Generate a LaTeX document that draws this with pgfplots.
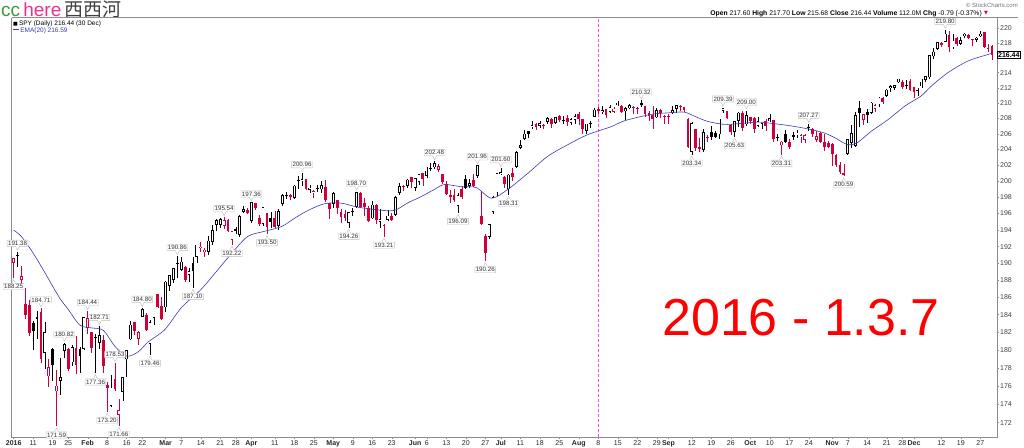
\documentclass[border=0pt]{standalone}
\usepackage{pgfplots}
\pgfplotsset{compat=1.18}
\usepackage{pgfplotstable}
\usetikzlibrary{shapes.callouts}
\usepackage{fontspec}
\setmainfont{Liberation Sans}
\newfontfamily\cjk{Noto Sans CJK SC}
\newfontfamily\dejavu{DejaVu Sans}
\definecolor{cred}{HTML}{D2003A}
\definecolor{emablue}{HTML}{3A3AB4}
\definecolor{vmag}{HTML}{F050F0}
\definecolor{ccgreen}{HTML}{3A9A3A}
\definecolor{herepink}{HTML}{F0308C}

% t: 0 black hollow, 1 black filled, 2 red filled, 3 red hollow
\pgfplotstableread{
i O H L C t
0 190.04 190.56 188.25 190.55 3
1 190.91 191.38 189.63 190.87 1
2 188.01 189.64 187.31 188.46 3
3 185.15 187.15 183.50 183.94 2
4 185.02 185.65 181.60 181.92 2
5 182.96 183.33 179.93 182.10 1
6 183.72 184.42 181.18 183.57 1
7 184.32 184.71 178.57 178.99 2
8 179.68 183.19 177.89 181.93 0
9 177.04 178.93 175.86 178.03 3
10 180.06 180.21 176.50 178.26 1
11 175.39 177.73 171.59 175.98 3
12 176.51 179.03 175.02 176.96 0
13 179.89 180.82 179.04 180.60 0
14 180.02 180.24 177.64 177.86 2
15 178.60 180.60 178.22 180.29 0
16 180.12 181.58 177.31 178.33 2
17 180.06 180.29 177.41 179.26 1
18 180.12 183.78 179.99 183.63 0
19 182.50 184.44 181.84 183.56 3
20 181.96 181.97 179.67 180.25 2
21 181.44 181.79 177.36 181.33 1
22 180.77 182.71 180.06 181.62 0
23 181.04 181.68 177.45 178.16 2
24 176.09 176.42 173.20 175.76 3
25 173.81 177.20 173.66 175.77 0
26 176.70 178.53 175.48 175.62 2
27 172.84 174.51 171.66 173.34 3
28 175.33 176.92 174.38 176.91 0
29 178.93 179.92 176.98 179.89 0
30 181.20 183.25 181.06 182.83 0
31 183.13 183.20 181.73 182.08 2
32 181.21 182.17 180.53 182.00 3
33 183.77 184.80 183.69 184.63 0
34 183.89 184.19 182.17 182.30 2
35 180.70 183.45 179.46 183.13 0
36 183.64 185.36 182.78 185.35 0
37 186.33 186.44 184.75 184.93 2
38 184.95 186.01 183.40 183.48 2
39 184.85 187.88 184.32 187.79 0
40 187.32 188.59 186.74 188.55 0
41 188.02 189.48 187.67 189.41 0
42 189.92 190.86 188.29 189.99 0
43 189.23 190.80 189.07 190.14 0
44 189.53 189.66 187.78 188.06 2
45 188.61 189.44 187.78 188.99 0
46 189.98 190.80 187.10 189.14 1
47 190.80 192.25 190.05 192.20 0
48 191.80 192.60 191.30 191.95 3
49 191.30 191.80 190.75 191.60 3
50 191.40 193.25 191.05 192.67 0
51 192.60 194.60 192.20 193.94 0
52 194.60 195.30 193.90 195.12 0
53 194.60 195.50 194.30 195.31 0
54 194.50 195.54 194.10 195.14 3
55 195.20 195.30 193.75 193.89 2
56 192.80 193.90 192.22 193.82 3
57 194.10 194.40 193.50 193.93 1
58 193.40 195.80 193.10 195.64 0
59 196.20 197.00 196.10 196.49 0
60 196.40 196.70 195.95 196.09 2
61 195.10 197.36 194.80 197.33 0
62 197.30 197.30 196.40 196.70 2
63 195.40 195.80 194.45 194.70 2
64 194.70 196.80 194.50 196.75 0
65 196.00 196.10 193.50 194.39 2
66 195.40 196.20 194.30 194.93 1
67 195.40 196.30 194.20 194.40 2
68 194.50 196.50 194.00 196.28 0
69 197.20 198.40 197.00 198.25 0
70 198.20 198.60 197.80 198.28 0
71 198.20 198.40 197.70 198.09 2
72 197.90 199.50 197.80 199.38 0
73 200.10 200.60 199.00 200.00 1
74 200.00 200.96 199.40 200.15 0
75 200.20 200.30 198.90 199.11 2
76 198.90 199.60 198.50 199.12 0
77 198.60 198.90 197.90 198.76 3
78 199.00 199.50 198.70 199.13 0
79 199.00 200.00 198.50 199.46 0
80 199.20 200.10 197.40 197.62 2
81 197.20 197.30 195.30 196.62 2
82 197.20 198.60 196.70 198.45 0
83 197.60 197.70 195.90 196.73 2
84 196.20 196.50 194.90 195.57 2
85 195.90 196.40 195.10 195.52 2
86 194.90 196.20 194.26 196.14 0
87 196.20 196.70 195.70 196.29 0
88 196.80 198.70 196.70 198.60 0
89 198.50 198.60 196.80 196.84 2
90 197.30 197.90 195.70 196.80 2
91 196.60 197.00 195.00 195.14 2
92 195.40 197.50 195.30 197.05 0
93 197.00 197.20 194.70 195.19 2
94 195.00 196.50 194.20 195.23 0
95 194.60 194.70 193.21 194.51 2
96 195.20 196.40 195.10 195.68 0
97 195.70 196.10 195.20 195.27 2
98 195.80 198.20 195.70 197.94 0
99 198.50 199.80 198.30 199.32 0
100 199.40 199.60 198.80 199.28 2
101 199.40 200.20 199.20 200.13 0
102 200.40 200.50 199.20 199.93 2
103 199.20 200.40 198.80 200.28 0
104 199.90 200.90 199.60 200.84 0
105 200.90 201.00 199.40 200.26 2
106 200.60 201.70 200.40 201.24 0
107 201.45 202.20 201.20 201.55 0
108 201.70 202.48 201.50 202.16 0
109 201.40 202.10 201.10 201.82 3
110 200.80 200.90 199.70 199.96 2
111 199.60 200.00 198.30 198.34 2
112 198.20 198.90 197.30 197.99 2
113 198.30 199.00 197.40 197.62 2
114 196.90 198.50 196.09 198.24 0
115 199.00 199.40 197.80 198.01 2
116 200.20 200.80 199.10 199.16 1
117 199.40 200.30 199.20 199.70 0
118 200.10 200.90 199.30 199.37 2
119 200.60 201.96 200.40 201.90 0
120 195.60 198.80 194.60 194.78 2
121 193.20 193.50 190.26 191.25 2
122 193.20 194.70 192.90 194.65 0
123 196.20 198.10 196.00 197.97 0
124 198.60 201.00 198.20 200.90 0
125 200.90 201.60 200.70 201.04 0
126 200.50 200.60 199.20 199.66 2
127 199.00 200.90 198.31 200.73 0
128 200.90 201.60 200.00 200.56 2
129 201.80 203.80 201.60 203.62 0
130 204.20 205.20 204.10 204.51 0
131 205.30 206.50 205.20 205.94 0
132 206.30 206.40 205.50 205.97 1
133 206.80 207.60 206.60 207.05 0
134 207.20 207.40 206.50 206.86 2
135 207.00 207.60 206.70 207.35 0
136 207.10 207.20 206.60 207.06 2
137 207.50 208.20 207.30 207.94 0
138 207.90 208.00 206.70 207.19 2
139 207.40 208.20 207.20 208.13 0
140 208.30 208.40 207.50 207.71 2
141 207.70 208.30 207.20 207.77 0
142 208.00 208.40 207.00 207.52 2
143 207.40 208.00 207.10 207.86 0
144 207.80 208.50 207.30 208.20 0
145 208.50 208.80 207.10 207.93 2
146 207.80 207.90 205.90 206.61 2
147 206.40 207.30 206.00 207.26 0
148 207.20 207.60 206.70 207.30 0
149 208.20 209.30 208.10 209.08 0
150 209.20 209.50 208.50 208.89 2
151 208.80 209.60 208.60 208.97 0
152 209.10 209.20 208.00 208.38 2
153 208.80 209.70 208.70 209.36 0
154 208.80 209.50 208.70 209.19 3
155 209.70 210.30 209.60 209.98 0
156 209.60 209.70 208.80 208.83 2
157 208.90 209.50 207.80 209.22 0
158 209.30 209.90 209.20 209.68 0
159 209.30 209.60 208.50 209.38 3
160 209.20 209.50 208.50 209.26 3
161 209.90 210.32 209.40 209.67 1
162 209.50 209.60 208.10 208.57 2
163 208.60 208.90 207.70 208.29 2
164 208.40 209.60 206.60 207.96 2
165 208.10 209.30 208.00 209.04 0
166 209.00 209.20 208.00 208.63 2
167 208.30 208.40 207.30 208.14 2
168 208.30 208.60 207.30 208.13 2
169 208.70 209.60 208.50 209.00 0
170 209.20 209.70 208.70 209.63 0
171 209.50 209.70 209.00 209.59 3
172 209.40 209.50 208.80 209.13 2
173 207.90 208.00 204.20 204.27 2
174 203.70 207.50 203.34 207.27 0
175 206.50 206.60 203.80 204.19 2
176 204.20 205.50 203.70 204.07 2
177 203.90 206.60 203.70 206.14 0
178 205.50 205.80 204.90 205.57 3
179 206.20 207.00 205.20 205.58 1
180 206.00 206.30 205.40 205.63 1
181 205.90 207.90 205.30 207.88 0
182 209.00 209.39 208.70 209.23 0
183 208.90 208.90 207.90 208.03 2
184 207.10 207.20 205.80 206.24 2
185 206.20 207.70 205.63 207.57 0
186 207.70 208.80 206.90 208.67 0
187 208.60 208.90 206.30 206.72 2
188 207.20 209.00 207.00 208.37 0
189 208.10 208.20 207.30 207.69 2
190 208.00 208.20 206.10 206.66 2
191 207.00 208.10 206.90 207.55 0
192 207.30 207.70 206.60 207.65 0
193 207.60 207.90 206.30 206.97 2
194 207.60 208.60 207.50 207.93 0
195 207.70 207.80 204.90 205.34 2
196 205.50 206.00 205.00 205.57 0
197 204.50 205.10 203.31 204.94 3
198 205.90 206.50 204.80 204.98 1
199 204.90 205.30 204.10 204.36 2
200 205.80 206.20 205.20 205.62 1
201 205.80 206.50 205.50 206.07 0
202 205.60 206.00 204.80 205.78 3
203 205.20 205.90 204.80 205.77 3
204 206.80 207.27 206.40 206.74 1
205 206.60 206.70 205.60 205.96 2
206 205.20 206.40 204.90 205.60 3
207 206.00 206.20 204.80 204.98 2
208 204.90 205.90 203.80 204.35 2
209 204.70 205.00 204.20 204.32 2
210 204.60 204.80 201.90 203.36 2
211 203.20 203.40 201.80 202.03 2
212 201.90 202.40 200.90 201.14 2
213 200.90 202.10 200.59 200.80 2
214 203.40 205.30 203.30 205.27 0
215 204.80 207.10 204.20 206.04 0
216 204.40 208.80 204.30 208.32 0
217 209.30 210.20 206.90 208.73 1
218 207.80 208.60 207.10 208.44 3
219 208.80 209.20 207.40 208.46 1
220 208.70 210.10 208.50 209.97 0
221 209.20 209.80 208.80 209.64 3
222 209.80 210.80 209.50 210.62 0
223 210.60 210.80 209.90 210.12 2
224 210.90 211.80 210.80 211.68 0
225 212.00 212.40 211.40 212.14 0
226 212.00 212.40 211.70 212.31 0
227 212.70 213.20 212.60 213.14 0
228 212.70 213.00 211.90 212.03 2
229 212.20 213.00 211.80 212.31 0
230 212.90 213.20 211.60 211.75 2
231 212.00 212.10 210.70 211.44 2
232 211.60 212.00 210.90 211.52 1
233 212.20 213.10 212.00 212.75 0
234 213.00 213.60 212.80 213.48 0
235 213.40 216.40 213.20 216.29 0
236 216.20 217.30 215.90 216.76 0
237 217.20 218.10 217.00 218.04 0
238 217.90 218.20 217.40 217.80 2
239 218.20 219.80 218.10 219.22 0
240 219.10 219.70 216.80 217.44 2
241 217.40 219.30 217.20 218.29 0
242 218.70 218.80 217.60 217.90 2
243 217.90 218.80 217.70 218.38 0
244 218.90 219.40 218.70 219.22 0
245 219.10 219.20 218.50 218.73 2
246 218.50 218.60 217.60 218.36 2
247 218.40 218.80 218.10 218.68 0
248 218.90 219.70 218.80 219.22 0
249 219.40 219.50 217.40 217.43 2
250 217.30 217.90 216.80 217.23 2
251 217.60 217.70 215.68 216.44 2
}\spy

\pgfplotstableread{
i E
0 194.0
2 193.2
5 191.2
8 188.9
10 187.3
12 185.8
14 184.6
17 182.8
20 182.5
23 182.2
26 180.4
29 179.3
32 179.8
34.5 180.9
38.8 182.3
43 184.8
48 186.9
51.6 188.8
56 191.2
60 193.2
64 193.8
68.7 194.4
72 195.4
75.6 196.4
79.8 197.2
84 197.3
88.4 196.8
94.4 196.4
97.8 196.4
101 197.3
104.6 198.1
108 199.0
110.5 199.6
114.9 199.3
118.7 199.2
122.6 197.9
126.8 199.0
132 201.0
137 203.1
142.2 204.6
147.4 205.9
153.3 206.9
156.9 207.7
163.6 208.5
168 208.7
172 208.8
175 208.2
178 207.6
182.3 207.2
186 207.3
191 207.5
195 207.3
199.5 207.0
204 206.6
208 206.1
210.6 205.5
214 204.6
216.6 204.9
220 206.3
224.3 207.8
228.7 209.6
232.8 210.9
235.4 212.2
239.7 214.0
244.8 215.55
250 216.45
251 216.59
}\ema

\pgfplotstableread{
i p lab
1 191.38 191.38
7 184.71 184.71
13 180.82 180.82
19 184.44 184.44
22 182.71 182.71
26 178.53 178.53
33 184.80 184.80
42 190.86 190.86
54 195.54 195.54
61 197.36 197.36
74 200.96 200.96
88 198.70 198.70
108 202.48 202.48
119 201.96 201.96
125 201.60 201.60
161 210.32 210.32
182 209.39 209.39
188 209.00 209.00
204 207.27 207.27
239 219.80 219.80
}\hilab

\pgfplotstableread{
i p lab
0 188.25 188.25
11 171.59 171.59
21 177.36 177.36
24 173.20 173.20
27 171.66 171.66
35 179.46 179.46
46 187.10 187.10
56 192.22 192.22
65 193.50 193.50
86 194.26 194.26
95 193.21 193.21
114 196.09 196.09
121 190.26 190.26
127 198.31 198.31
174 203.34 203.34
185 205.63 205.63
197 203.31 203.31
213 200.59 200.59
}\lolab

\pgfplotsset{
  candle/.style={draw=none, mark=none, forget plot},
}

\begin{document}
\begin{tikzpicture}
\begin{axis}[
  name=main,
  at={(11.7pt,9.7pt)}, anchor=south west,
  scale only axis, width=985.3pt, height=419.8pt,
  ymode=log, xmin=-0.5, xmax=252.3, ymin=170.44, ymax=221.52,
  axis line style={black!45, line width=0.5pt},
  tick align=outside, major tick length=2pt,
  tick style={black!45, line width=0.4pt},
  xtick pos=left, ytick pos=right, yticklabel pos=right,
  xtick={0,5,10,14,19,24,29,33,39,43,48,53,57,61,67,72,77,82,87,92,97,103,106,111,116,121,125,130,135,140,145,150,155,160,165,168,174,179,184,189,194,199,204,210,214,219,224,228,231,238,243,248},
  xticklabels={\textbf{2016},11,19,25,\textbf{Feb},8,16,22,\textbf{Mar},7,14,21,28,\textbf{Apr},11,18,25,\textbf{May},9,16,23,\textbf{Jun},6,13,20,27,\textbf{Jul},11,18,25,\textbf{Aug},8,15,22,29,\textbf{Sep},12,19,26,\textbf{Oct},10,17,24,\textbf{Nov},7,14,21,28,\textbf{Dec},12,19,27},
  xticklabel style={font=\fontsize{7}{8}\selectfont, text=black!85, anchor=north, inner sep=0pt, yshift=-1pt},
  ytick={172,174,176,178,180,182,184,186,188,190,192,194,196,198,200,202,204,206,208,210,212,214,216,218,220},
  yticklabels={172,174,176,178,180,182,184,186,188,190,192,194,196,198,200,202,204,206,208,210,212,214,{},218,220},
  yticklabel style={font=\fontsize{7}{8}\selectfont, text=black!75, anchor=west, inner sep=0pt, xshift=1pt},
  minor tick num=0,
]
% vertical marker
\addplot[vmag, dash pattern=on 3pt off 2pt, line width=0.6pt, mark=none] coordinates {(150,170.44) (150,221.52)};
% wicks
\addplot[candle, restrict expr to domain={\thisrow{t}}{0:1},
  error bars/.cd, y dir=both, y explicit, error mark=none,
  error bar style={draw=black, line width=0.55pt}]
  table[x=i, y=C, y error plus expr=\thisrow{H}-\thisrow{C}, y error minus expr=\thisrow{C}-\thisrow{L}] {\spy};
\addplot[candle, restrict expr to domain={\thisrow{t}}{2:3},
  error bars/.cd, y dir=both, y explicit, error mark=none,
  error bar style={draw=cred, line width=0.55pt}]
  table[x=i, y=C, y error plus expr=\thisrow{H}-\thisrow{C}, y error minus expr=\thisrow{C}-\thisrow{L}] {\spy};
% filled bodies
\addplot[candle, restrict expr to domain={\thisrow{t}}{1:1},
  error bars/.cd, y dir=plus, y explicit, error mark=none,
  error bar style={draw=black, line width=2.8pt, line cap=butt}]
  table[x=i, y=C, y error plus expr=\thisrow{O}-\thisrow{C}+0.05] {\spy};
\addplot[candle, restrict expr to domain={\thisrow{t}}{2:2},
  error bars/.cd, y dir=plus, y explicit, error mark=none,
  error bar style={draw=cred, line width=2.8pt, line cap=butt}]
  table[x=i, y=C, y error plus expr=\thisrow{O}-\thisrow{C}+0.05] {\spy};
% hollow bodies: outline
\addplot[candle, restrict expr to domain={\thisrow{t}}{0:0},
  error bars/.cd, y dir=plus, y explicit, error mark=none,
  error bar style={draw=black, line width=2.8pt, line cap=butt}]
  table[x=i, y=O, y error plus expr=\thisrow{C}-\thisrow{O}+0.05] {\spy};
\addplot[candle, restrict expr to domain={\thisrow{t}}{3:3},
  error bars/.cd, y dir=plus, y explicit, error mark=none,
  error bar style={draw=cred, line width=2.8pt, line cap=butt}]
  table[x=i, y=O, y error plus expr=\thisrow{C}-\thisrow{O}+0.05] {\spy};
% hollow bodies: white inside
\addplot[candle, restrict expr to domain={\thisrow{t}}{0:0},
  error bars/.cd, y dir=plus, y explicit, error mark=none,
  error bar style={draw=white, line width=1.4pt, line cap=butt}]
  table[x=i, y expr=\thisrow{O}+0.09, y error plus expr={max(\thisrow{C}-\thisrow{O}-0.13,0)}] {\spy};
\addplot[candle, restrict expr to domain={\thisrow{t}}{3:3},
  error bars/.cd, y dir=plus, y explicit, error mark=none,
  error bar style={draw=white, line width=1.4pt, line cap=butt}]
  table[x=i, y expr=\thisrow{O}+0.09, y error plus expr={max(\thisrow{C}-\thisrow{O}-0.13,0)}] {\spy};
% EMA
\addplot[emablue, line width=0.6pt, smooth, tension=0.5, mark=none] table[x=i, y=E] {\ema};
% labels
\addplot[draw=none, mark=none, nodes near coords, point meta=explicit symbolic,
  nodes near coords style={rectangle callout, callout relative pointer={(0pt,-4pt)}, callout pointer width=4pt,
   anchor=pointer, yshift=1pt, draw=black!25, fill=white, inner sep=0.9pt, text=black!80,
   font=\fontsize{6.2}{7}\selectfont}]
  table[x=i, y=p, meta=lab] {\hilab};
\addplot[draw=none, mark=none, nodes near coords, point meta=explicit symbolic,
  nodes near coords style={rectangle callout, callout relative pointer={(0pt,4pt)}, callout pointer width=4pt,
   anchor=pointer, yshift=-1pt, draw=black!25, fill=white, inner sep=0.9pt, text=black!80,
   font=\fontsize{6.2}{7}\selectfont}]
  table[x=i, y=p, meta=lab] {\lolab};
\coordinate (closept) at (axis cs:252.3,216.44);
\end{axis}
% close box
\node[anchor=west, draw=black, fill=white, inner sep=0.8pt, line width=0.6pt, font=\fontsize{7}{8}\selectfont\bfseries] at (closept) {216.44};
% header texts
\node[anchor=west, inner sep=0pt, fill=white, font=\fontsize{19}{20}\selectfont] at (1pt,437.5pt)
  {\textcolor{ccgreen}{cc}\,\textcolor{herepink}{here}\,{\cjk\textcolor{black!75}{西西河}}};
\node[anchor=west, inner sep=0pt, font=\fontsize{6.5}{7}\selectfont] at (13pt,423.5pt)
  {{\dejavu\fontsize{5}{5}\selectfont ■}\,SPY (Daily) 216.44 (30 Dec)};
\node[anchor=west, inner sep=0pt, font=\fontsize{6.5}{7}\selectfont, text=emablue] at (13pt,416.5pt)
  {\rule[2pt]{6pt}{1pt}\,EMA(20) 216.59};
\node[anchor=east, inner sep=0pt, text=black!55, font=\fontsize{6}{7}\selectfont] at (1018pt,442pt) {© StockCharts.com};
\node[anchor=east, inner sep=0pt, font=\fontsize{6.8}{7}\selectfont] at (982pt,433.5pt)
  {\textbf{Open} 217.60 \textbf{High} 217.70 \textbf{Low} 215.68 \textbf{Close} 216.44 \textbf{Volume} 112.0M \textbf{Chg} -0.79 (-0.37\%)};
\node[anchor=west, inner sep=0pt, text=cred, font=\dejavu\fontsize{5}{6}\selectfont] at (984pt,433.5pt) {▼};
\draw[black!45, line width=0.5pt] (11.7pt,429.5pt) -- (1018pt,429.5pt);
\node[text=red, font=\fontsize{52}{52}\selectfont, inner sep=0pt] at (801pt,129pt) {2016 - 1.3.7};
\pgfresetboundingbox
\path[use as bounding box] (0pt,0pt) rectangle (1024pt,447pt);
\end{tikzpicture}
\end{document}
